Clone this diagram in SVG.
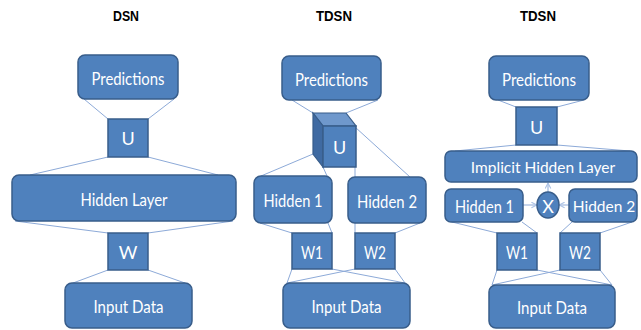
<svg xmlns="http://www.w3.org/2000/svg" width="641" height="330" viewBox="0 0 641 330">
<defs>
<style>
.box{fill:#4F81BD;stroke:#385D8A;stroke-width:1.5}
.lbl{fill:#fff;font-family:Lato,"Liberation Sans",sans-serif;font-size:18px;text-anchor:middle;dominant-baseline:central}
.sm{font-size:15.5px}
.ttl{fill:#000;font-family:"Liberation Sans",sans-serif;font-size:15px;font-weight:bold;text-anchor:middle;dominant-baseline:central}
.ln{stroke:#8DAAD8;stroke-width:1;fill:none}
</style>
<marker id="ah" viewBox="0 0 10 10" refX="9" refY="5" markerWidth="7" markerHeight="7" orient="auto-start-reverse" markerUnits="userSpaceOnUse">
<path d="M1,1 L9,5 L1,9" fill="none" stroke="#A9C0E4" stroke-width="1.5"/>
</marker>
</defs>
<rect width="641" height="330" fill="#fff"/>
<text class="ttl" x="126" y="15" textLength="26" lengthAdjust="spacingAndGlyphs">DSN</text>
<text class="ttl" x="334" y="15" textLength="36" lengthAdjust="spacingAndGlyphs">TDSN</text>
<text class="ttl" x="538" y="15" textLength="36" lengthAdjust="spacingAndGlyphs">TDSN</text>
<g id="connectors">
<line class="ln" x1="84" y1="99" x2="108" y2="119"/>
<line class="ln" x1="174" y1="99" x2="148" y2="119"/>
<line class="ln" x1="108" y1="157" x2="30" y2="175"/>
<line class="ln" x1="148" y1="157" x2="218" y2="175"/>
<line class="ln" x1="15" y1="221" x2="108" y2="233"/>
<line class="ln" x1="233" y1="221" x2="148" y2="233"/>
<line class="ln" x1="108" y1="270" x2="73" y2="283"/>
<line class="ln" x1="148" y1="270" x2="185" y2="283"/>
<line class="ln" x1="292" y1="100" x2="313" y2="113"/>
<line class="ln" x1="378" y1="100" x2="346" y2="113"/>
<line class="ln" x1="313" y1="154" x2="261" y2="176"/>
<line class="ln" x1="323" y1="167" x2="327" y2="176"/>
<line class="ln" x1="355" y1="127" x2="410" y2="177"/>
<line class="ln" x1="355" y1="167" x2="355" y2="177"/>
<line class="ln" x1="260" y1="223" x2="292" y2="233"/>
<line class="ln" x1="328" y1="223" x2="332" y2="233"/>
<line class="ln" x1="355" y1="223" x2="355" y2="233"/>
<line class="ln" x1="420" y1="223" x2="395" y2="233"/>
<line class="ln" x1="292" y1="269" x2="287" y2="283"/>
<line class="ln" x1="332" y1="269" x2="405" y2="283"/>
<line class="ln" x1="355" y1="269" x2="287" y2="283"/>
<line class="ln" x1="395" y1="269" x2="405" y2="283"/>
<line class="ln" x1="498" y1="100" x2="516" y2="107"/>
<line class="ln" x1="584" y1="100" x2="557" y2="107"/>
<line class="ln" x1="516" y1="145" x2="455" y2="151"/>
<line class="ln" x1="557" y1="145" x2="630" y2="151"/>
<line class="ln" x1="452" y1="222" x2="497" y2="233"/>
<line class="ln" x1="522" y1="222" x2="537" y2="233"/>
<line class="ln" x1="572" y1="222" x2="560" y2="233"/>
<line class="ln" x1="632" y1="222" x2="600" y2="233"/>
<line class="ln" x1="497" y1="270" x2="492" y2="285"/>
<line class="ln" x1="537" y1="270" x2="612" y2="285"/>
<line class="ln" x1="560" y1="270" x2="492" y2="285"/>
<line class="ln" x1="600" y1="270" x2="612" y2="285"/>
<line class="ln" x1="523" y1="205" x2="537" y2="205" marker-end="url(#ah)"/>
<line class="ln" x1="569" y1="205" x2="559" y2="205" marker-end="url(#ah)"/>
<line class="ln" x1="548" y1="192" x2="548" y2="183" marker-end="url(#ah)"/>
</g>
<g id="dsn-predictions"><rect class="box" x="78" y="55" width="100" height="44" rx="7"/><text class="lbl" x="128" y="78" textLength="73" lengthAdjust="spacingAndGlyphs">Predictions</text></g>
<g id="dsn-u"><rect class="box" x="108" y="119" width="40" height="38"/><text class="lbl" x="128" y="138">U</text></g>
<g id="dsn-hidden"><rect class="box" x="12" y="175" width="224" height="46" rx="7"/><text class="lbl" x="124" y="199" textLength="87" lengthAdjust="spacingAndGlyphs">Hidden Layer</text></g>
<g id="dsn-w"><rect class="box" x="108" y="233" width="40" height="37"/><text class="lbl" x="128" y="252">W</text></g>
<g id="dsn-input"><rect class="box" x="65" y="283" width="127" height="45" rx="7"/><text class="lbl" x="128.5" y="306" textLength="70" lengthAdjust="spacingAndGlyphs">Input Data</text></g>
<g id="t1-predictions"><rect class="box" x="282" y="56" width="99" height="44" rx="7"/><text class="lbl" x="331.5" y="79" textLength="73" lengthAdjust="spacingAndGlyphs">Predictions</text></g>
<g id="t1-u">
<polygon points="323,126 356,126 346,113 313,113" fill="#6F98CC" stroke="#385D8A" stroke-width="1.2"/>
<polygon points="313,113 323,126 323,167 313,154" fill="#3F6AA2" stroke="#385D8A" stroke-width="1.2"/>
<rect class="box" x="323" y="126" width="33" height="41"/><text class="lbl" x="339.5" y="147">U</text></g>
<g id="t1-hidden1"><rect class="box" x="254" y="176" width="78" height="47" rx="7"/><text class="lbl" x="293" y="200" textLength="59" lengthAdjust="spacingAndGlyphs">Hidden 1</text></g>
<g id="t1-hidden2"><rect class="box" x="348" y="177" width="78" height="46" rx="7"/><text class="lbl" x="387" y="200.5" textLength="60" lengthAdjust="spacingAndGlyphs">Hidden 2</text></g>
<g id="t1-w1"><rect class="box" x="292" y="233" width="40" height="36"/><text class="lbl" x="312" y="252" textLength="22" lengthAdjust="spacingAndGlyphs">W1</text></g>
<g id="t1-w2"><rect class="box" x="355" y="233" width="40" height="36"/><text class="lbl" x="375" y="252" textLength="22" lengthAdjust="spacingAndGlyphs">W2</text></g>
<g id="t1-input"><rect class="box" x="283" y="283" width="127" height="45" rx="7"/><text class="lbl" x="346.5" y="306" textLength="70" lengthAdjust="spacingAndGlyphs">Input Data</text></g>
<g id="t2-predictions"><rect class="box" x="489" y="56" width="100" height="44" rx="7"/><text class="lbl" x="539" y="79" textLength="74" lengthAdjust="spacingAndGlyphs">Predictions</text></g>
<g id="t2-u"><rect class="box" x="516" y="107" width="41" height="38"/><text class="lbl" x="536.5" y="127">U</text></g>
<g id="t2-implicit"><rect class="box" x="445" y="151" width="192" height="31" rx="6"/><text class="lbl sm" x="543" y="167">Implicit Hidden Layer</text></g>
<g id="t2-hidden1"><rect class="box" x="445" y="189" width="78" height="33" rx="6"/><text class="lbl" x="484.5" y="206" textLength="59" lengthAdjust="spacingAndGlyphs">Hidden 1</text></g>
<g id="t2-x"><ellipse class="box" cx="548" cy="205" rx="11" ry="13"/><text class="lbl" x="548" y="205.5">X</text></g>
<g id="t2-hidden2"><rect class="box" x="569" y="189" width="68" height="33" rx="6"/><text class="lbl sm" x="604" y="206">Hidden 2</text></g>
<g id="t2-w1"><rect class="box" x="497" y="233" width="40" height="37"/><text class="lbl" x="517" y="252" textLength="22" lengthAdjust="spacingAndGlyphs">W1</text></g>
<g id="t2-w2"><rect class="box" x="560" y="233" width="40" height="37"/><text class="lbl" x="580" y="252" textLength="22" lengthAdjust="spacingAndGlyphs">W2</text></g>
<g id="t2-input"><rect class="box" x="489" y="285" width="126" height="43" rx="7"/><text class="lbl" x="552" y="307" textLength="70" lengthAdjust="spacingAndGlyphs">Input Data</text></g>
</svg>
